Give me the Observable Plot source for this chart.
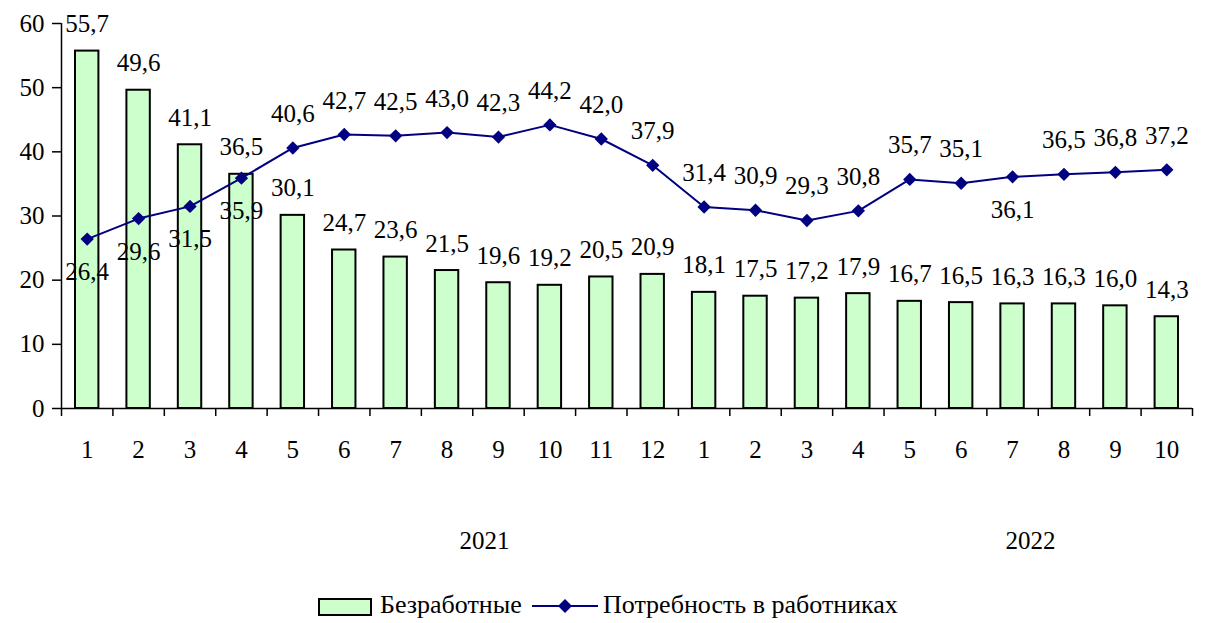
<!DOCTYPE html>
<html>
<head>
<meta charset="utf-8">
<script src="https://cdn.jsdelivr.net/npm/d3@7"></script>
<script src="https://cdn.jsdelivr.net/npm/@observablehq/plot@0.6"></script>
</head>
<body style="margin:0;padding:0;background:#fff;width:1205px;height:623px;overflow:hidden;color:#000;font-family:'Liberation Serif';font-size:22px;">
<div id="chart"></div>
<div id="legend" style="position:absolute;left:0;top:590px;width:1205px;height:33px;font-family:'Liberation Serif';font-size:26px;color:#000;">
  <span style="position:absolute;left:318px;top:8px;width:50px;height:14px;background:#ccffcc;border:2px solid #000;"></span>
  <span style="position:absolute;left:380px;top:0px;line-height:30px;">Безработные</span>
  <svg style="position:absolute;left:532px;top:7px;" width="66" height="18"><line x1="0" y1="9" x2="66" y2="9" stroke="#000080" stroke-width="2"/><path d="M33,2 L40,9 L33,16 L26,9 Z" fill="#000080"/></svg>
  <span style="position:absolute;left:603px;top:0px;line-height:30px;">Потребность в работниках</span>
</div>
<script>
const months = ["1","2","3","4","5","6","7","8","9","10","11","12","1","2","3","4","5","6","7","8","9","10"];
const unemployed = [55.7,49.6,41.1,36.5,30.1,24.7,23.6,21.5,19.6,19.2,20.5,20.9,18.1,17.5,17.2,17.9,16.7,16.5,16.3,16.3,16.0,14.3];
const demand = [26.4,29.6,31.5,35.9,40.6,42.7,42.5,43.0,42.3,44.2,42.0,37.9,31.4,30.9,29.3,30.8,35.7,35.1,36.1,36.5,36.8,37.2];
const years = ["2021","2022"];
const yTicks = [0,10,20,30,40,50,60];
// label placement for the demand series
const demandLabelBelow = [0,1,2,3,18];

const fmt = v => v.toFixed(1).replace(".", ",");
const rows = months.map((m, i) => ({i, m, u: unemployed[i], d: demand[i], below: demandLabelBelow.includes(i)}));
// year label anchors (in category units) as placed in the source chart
const yearPos = [8.23, 18.85];
const yearRows = years.map((y, k) => ({y, x: yearPos[k]}));
const FONT = "Liberation Serif";
const FS = 25;
const txt = {fontFamily: FONT, fontSize: FS, fill: "#000", lineAnchor: "middle"};

const chart = Plot.plot({
  width: 1205,
  height: 570,
  marginLeft: 61,
  marginRight: 13,
  marginTop: 23,
  marginBottom: 162,
  style: {fontFamily: FONT, fontSize: FS + "px", color: "#000", background: "#fff", overflow: "visible"},
  x: {type: "linear", domain: [0, months.length], axis: null},
  y: {domain: [0, 60], axis: null},
  marks: [
    Plot.rectY(rows, {x1: d => d.i, x2: d => d.i + 1, y: "u", fill: "#ccffcc", stroke: "#000", strokeWidth: 2, insetLeft: 14, insetRight: 14}),
    Plot.ruleY([0], {stroke: "#000", strokeWidth: 1.5}),
    Plot.ruleX([0], {stroke: "#000", strokeWidth: 1.5}),
    Plot.axisY({ticks: yTicks, tickSize: 9, tickPadding: 8, stroke: "#000", strokeWidth: 1.5, fill: "#000", fontSize: FS, fontFamily: FONT, label: null}),
    Plot.axisX({ticks: d3.range(0, months.length + 1), tickSize: 8, stroke: "#000", strokeWidth: 1.5, fill: "none", label: null}),
    Plot.axisX({ticks: d3.range(months.length).map(i => i + 0.5), tickSize: 0, tickPadding: 32, tickFormat: d => months[Math.floor(d)], fill: "#000", fontSize: FS, fontFamily: FONT, label: null}),
    Plot.text(yearRows, {...txt, x: "x", y: () => 0, text: "y", dy: 132}),
    Plot.text(rows, {...txt, x: d => d.i + 0.5, y: "u", text: d => fmt(d.u), dy: -27}),
    Plot.line(rows, {x: d => d.i + 0.5, y: "d", stroke: "#000080", strokeWidth: 2}),
    Plot.dot(rows, {x: d => d.i + 0.5, y: "d", symbol: "diamond2", r: 6, fill: "#000080", stroke: "none"}),
    Plot.text(rows.filter(d => !d.below), {...txt, x: d => d.i + 0.5, y: "d", text: d => fmt(d.d), dy: -34}),
    Plot.text(rows.filter(d => d.below), {...txt, x: d => d.i + 0.5, y: "d", text: d => fmt(d.d), dy: 33})
  ]
});
document.getElementById("chart").appendChild(chart);
</script>
</body>
</html>
